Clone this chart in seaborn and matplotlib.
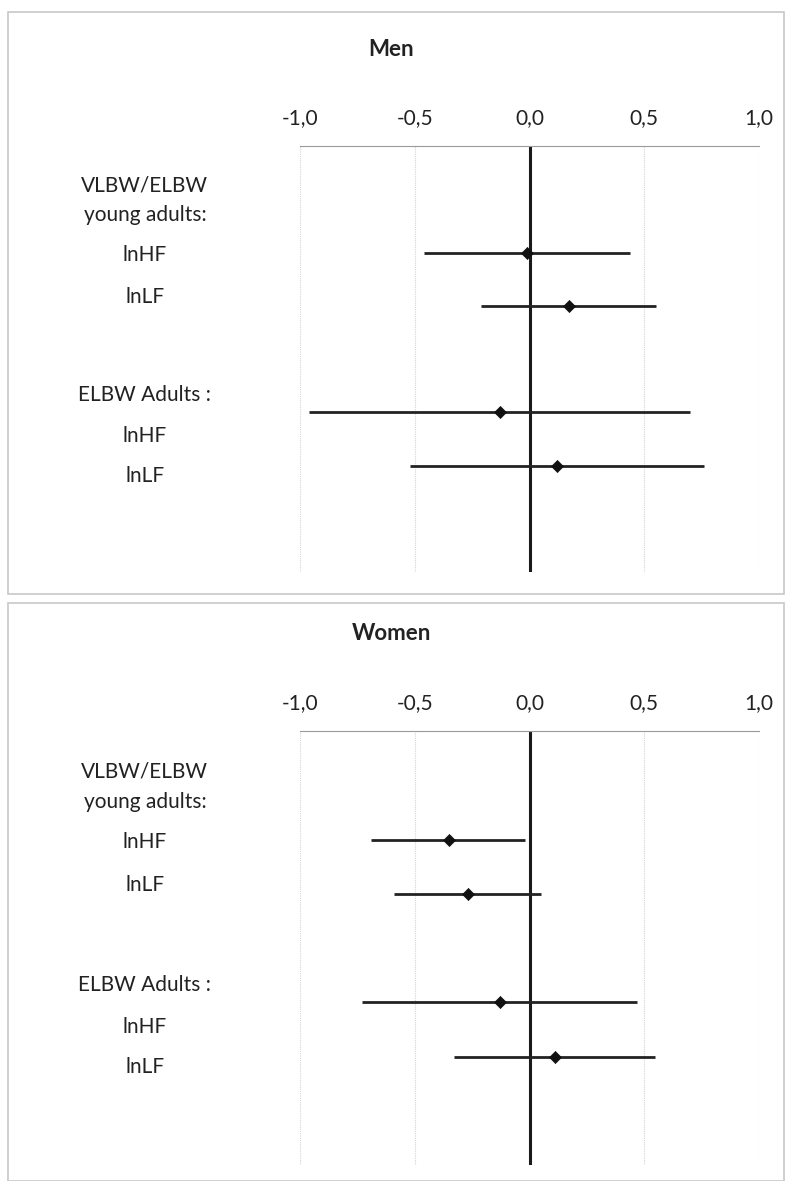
import pandas as pd
import matplotlib.pyplot as plt
from matplotlib.patches import Rectangle
import seaborn as sns

sns.set_theme(style="white")
plt.rcParams['font.family'] = ['Lato', 'DejaVu Sans']

# rows of the forest plot (top to bottom)
outcomes = ['lnHF', 'lnLF', 'lnHF', 'lnLF']
row_pos = [2, 3, 5, 6]

men_est = [-0.01, 0.17, -0.13, 0.12]
men_low = [-0.46, -0.21, -0.96, -0.52]
men_high = [0.44, 0.55, 0.70, 0.76]

women_est = [-0.35, -0.27, -0.13, 0.11]
women_low = [-0.69, -0.59, -0.73, -0.33]
women_high = [-0.02, 0.05, 0.47, 0.545]

ticks = [-1.0, -0.5, 0.0, 0.5, 1.0]
tick_labels = ['-1,0', '-0,5', '0,0', '0,5', '1,0']

# left side text labels (text, y in row units)
side_labels = [('VLBW/ELBW', 0.75), ('young adults:', 1.3), ('lnHF', 2.05), ('lnLF', 2.83),
               ('ELBW Adults :', 4.68), ('lnHF', 5.45), ('lnLF', 6.2)]

fig = plt.figure(figsize=(7.87, 11.81), dpi=100)

# panel frames
for y0, h in [(1 - 594 / 1181, 582 / 1181), (0.0, 578 / 1181)]:
    fig.patches.append(Rectangle((8 / 787, y0), 776 / 787, h, transform=fig.transFigure,
                                 fill=False, edgecolor='#c8c8c8', lw=1.2))


def forest(ax, est, low, high, title, title_y):
    df = pd.DataFrame({'outcome': outcomes, 'y': row_pos, 'est': est, 'low': low, 'high': high})
    for t in ticks:
        if t != 0:
            ax.axvline(t, color='#d4d4d4', lw=0.8, ls=(0, (1, 1)), zorder=0)
    ax.axvline(0, color='#1a1a1a', lw=2.2, zorder=1)
    ax.hlines(df['y'], df['low'], df['high'], color='#222222', lw=2, zorder=2)
    sns.scatterplot(data=df, x='est', y='y', marker='D', s=38, color='#111111',
                    edgecolor='#111111', ax=ax, zorder=3)
    ax.set_xlim(-1.0, 1.0)
    ax.set_ylim(8, 0)
    ax.set_xticks(ticks)
    ax.set_xticklabels(tick_labels, fontsize=15, color='#222222')
    ax.xaxis.tick_top()
    ax.tick_params(axis='x', length=0, pad=13)
    ax.set_yticks([])
    ax.set_xlabel('')
    ax.set_ylabel('')
    for s in ['left', 'right', 'bottom']:
        ax.spines[s].set_visible(False)
    ax.spines['top'].set_color('#9a9a9a')
    ax.spines['top'].set_linewidth(0.8)
    for txt, y in side_labels:
        ax.text(-0.338, y, txt, transform=ax.get_yaxis_transform(), ha='center', va='center',
                fontsize=15, color='#222222')
    fig.text(0.497, title_y, title, ha='center', va='center', fontsize=16, fontweight='bold',
             color='#222222')


ax1 = fig.add_axes([300 / 787, 1 - 572 / 1181, 459 / 787, 426 / 1181])
forest(ax1, men_est, men_low, men_high, 'Men', 1 - 49 / 1181)

ax2 = fig.add_axes([300 / 787, 1 - 1165 / 1181, 459 / 787, 434 / 1181])
forest(ax2, women_est, women_low, women_high, 'Women', 1 - 634 / 1181)

fig.savefig('out.png', dpi=100)
